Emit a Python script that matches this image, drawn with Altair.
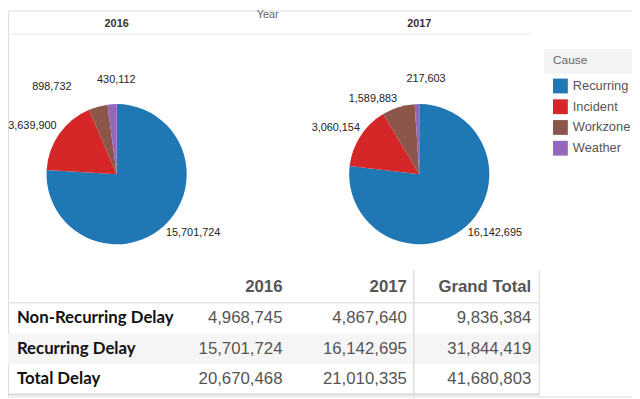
import altair as alt
import pandas as pd

# ---------------- data ----------------
years = ["2016", "2017"]
causes = ["Recurring", "Incident", "Workzone", "Weather"]
delay_2016 = [15701724, 3639900, 898732, 430112]
delay_2017 = [16142695, 3060154, 1589883, 217603]
cause_colors = ["#1f77b4", "#d62728", "#8c564b", "#9467bd"]

table_rows = ["Non-Recurring Delay", "Recurring Delay", "Total Delay"]
table_cols = ["2016", "2017", "Grand Total"]
col_2016 = [4968745, 15701724, 20670468]
col_2017 = [4867640, 16142695, 21010335]
col_total = [9836384, 31844419, 41680803]

# ---------------- tables for the library ----------------
pie_df = pd.DataFrame({
    "Year": [y for y in years for _ in causes],
    "Cause": causes * len(years),
    "order": list(range(len(causes))) * len(years),
    "Delay": delay_2016 + delay_2017,
})
year_df = pd.DataFrame({"Year": years})
tbl_df = pd.DataFrame({
    "row": table_rows * 3,
    "col": [c for c in table_cols for _ in table_rows],
    "value": col_2016 + col_2017 + col_total,
})
HEADER = " "
head_df = pd.DataFrame({"row": [HEADER] * len(table_cols), "col": table_cols})
rowlab_df = pd.DataFrame({"row": table_rows})
one = pd.DataFrame({"k": [0]})

# ---------------- styles / layout ----------------
FONT = "Liberation Sans"
W, H = 632, 391
PIE_Y = 165.8
PIE_R = 71
LABEL_R = 97
# label nudges (dx, dy) in pixels, Tableau-style placement
nudges = {
    ("2016", "Recurring"): (11, -11),
    ("2016", "Incident"): (-6, 7),
    ("2016", "Workzone"): (-40, 5),
    ("2016", "Weather"): (6, 1),
    ("2017", "Recurring"): (12, -13),
    ("2017", "Incident"): (-3, 6),
    ("2017", "Workzone"): (-18, 16),
    ("2017", "Weather"): (10, 1),
}

year_scale = alt.Scale(type="point", domain=years, padding=0.531, align=0.338)
xyear = alt.X("Year:N", scale=year_scale, axis=None)
theta_scale = alt.Scale(domain=[0, 1])
order = alt.Order("order:Q")

color = alt.Color(
    "Cause:N",
    scale=alt.Scale(domain=causes, range=cause_colors),
    legend=alt.Legend(
        title="Cause", orient="none", legendX=552, legendY=45, padding=0,
        symbolType="square", symbolSize=225, symbolStrokeWidth=0,
        labelFontSize=13, labelColor="#555555", labelFont=FONT, labelOffset=5,
        titleFontSize=12, titleColor="#666666", titleFontWeight="normal",
        titleFont=FONT, titlePadding=12, rowPadding=6,
    ),
)

layers = []

# legend header box and top divider
layers.append(alt.Chart(one).mark_rect(color="#f3f3f3").encode(
    x=alt.value(543), x2=alt.value(632), y=alt.value(39), y2=alt.value(64)))
layers.append(alt.Chart(one).mark_rule(color="#e6e6e6", strokeWidth=1).encode(
    x=alt.value(0), x2=alt.value(529), y=alt.value(24)))

# "Year" title and year headers
layers.append(alt.Chart(one).mark_text(
    text="Year", fontSize=11, color="#666666", font=FONT).encode(
    x=alt.value(263), y=alt.value(5)))
layers.append(alt.Chart(year_df).mark_text(
    fontSize=11, fontWeight="bold", color="#333333", font=FONT).encode(
    x=xyear, y=alt.value(14), text="Year:N"))

# pies
for y in years:
    layers.append(
        alt.Chart(pie_df).transform_filter(alt.datum.Year == y)
        .mark_arc(outerRadius=PIE_R)
        .encode(theta=alt.Theta("Delay:Q", stack="normalize", scale=theta_scale),
                x=xyear, y=alt.value(PIE_Y), color=color, order=order)
    )

# pie labels (one datum per layer, placed at the slice's mid angle)
for (y, c), (dx, dy) in nudges.items():
    layers.append(
        alt.Chart(pie_df)
        .transform_filter(alt.datum.Year == y)
        .transform_stack(stack="Delay", as_=["s0", "s1"], groupby=["Year"],
                         offset="normalize",
                         sort=[alt.SortField(field="order", order="ascending")])
        .transform_calculate(mid="(datum.s0 + datum.s1) / 2")
        .transform_filter(alt.datum.Cause == c)
        .mark_text(radius=LABEL_R, dx=dx, dy=dy, fontSize=11, color="#222222", font=FONT)
        .encode(theta=alt.Theta("mid:Q", stack=None, scale=theta_scale),
                x=xyear, y=alt.value(PIE_Y),
                text=alt.Text("Delay:Q", format=","))
    )

# ---------------- table ----------------
ROW_H = 31
yscale = alt.Scale(type="point", domain=[HEADER] + table_rows, padding=0,
                   range=[280.5, 280.5 + 3 * ROW_H])
xscale = alt.Scale(type="point", domain=table_cols, padding=0, range=[278, 530])
yrow = alt.Y("row:N", scale=yscale, axis=None)
xcol = alt.X("col:N", scale=xscale, axis=None)

# shaded row (a wide rule spanning the row height)
layers.append(
    alt.Chart(rowlab_df).transform_filter(alt.datum.row == "Recurring Delay")
    .mark_rule(color="#f5f5f5", strokeWidth=ROW_H)
    .encode(y=yrow, x=alt.value(0), x2=alt.value(538))
)
# table borders
layers.append(alt.Chart(one).mark_rule(color="#e3e3e3", strokeWidth=1.5).encode(
    y=alt.value(296), x=alt.value(0), x2=alt.value(538)))
layers.append(alt.Chart(one).mark_rule(color="#d8d8d8", strokeWidth=2).encode(
    y=alt.value(389), x=alt.value(0), x2=alt.value(538)))
layers.append(alt.Chart(one).mark_rule(color="#dddddd", strokeWidth=1.5).encode(
    x=alt.value(411), y=alt.value(263), y2=alt.value(H)))
layers.append(alt.Chart(one).mark_rule(color="#e3e3e3", strokeWidth=1.5).encode(
    x=alt.value(538), y=alt.value(263), y2=alt.value(H)))

layers.append(
    alt.Chart(head_df).mark_text(align="right", fontSize=17, fontWeight="bold",
                                 color="#555555", font=FONT)
    .encode(x=xcol, y=yrow, text="col:N")
)
layers.append(
    alt.Chart(rowlab_df).mark_text(align="left", fontSize=17, fontWeight="bold",
                                   color="#111111", font="Lato")
    .encode(x=alt.value(9), y=yrow, text="row:N")
)
layers.append(
    alt.Chart(tbl_df).mark_text(align="right", fontSize=17, color="#555555", font=FONT)
    .encode(x=xcol, y=yrow, text=alt.Text("value:Q", format=","))
)

chart = (
    alt.layer(*layers)
    .resolve_scale(x="independent", y="independent")
    .properties(width=W, height=H, padding=0,
                autosize=alt.AutoSizeParams(type="none"))
    .configure_view(strokeWidth=0)
    .configure(font=FONT)
)

chart.save("out.html", embed_options={"renderer": "svg", "actions": False})
